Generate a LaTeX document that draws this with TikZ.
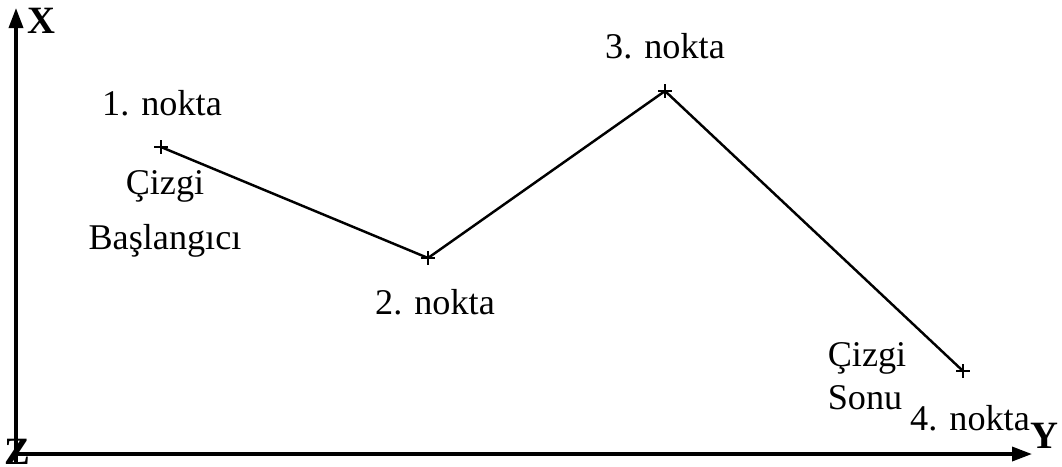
\documentclass[tikz,border=0pt]{standalone}
\usepackage{fontspec}
\setmainfont{Liberation Serif}
\usepackage{tikz}
\usetikzlibrary{arrows.meta}
\newcommand{\arti}[1]{%
	\draw [thin] (#1) ++(-7,0) -- ++(14,0) (#1) ++(0,-7) -- ++(0,14);
}
\tikzset{
	eksen/.style={line width=1pt, -{Triangle[length=2mm,width=1.4mm]}},
	etiket/.style={font=\fontsize{10.3}{15.5}\selectfont, inner sep=0pt},
	eksenadi/.style={font=\fontsize{11}{13}\selectfont\bfseries, inner sep=0pt}
}

\begin{document}
\begin{tikzpicture}[x=0.1mm, y=-0.1mm]
	
	\useasboundingbox (0,0) rectangle (1062,466);
	
	% eksenler
	\coordinate (o) at (16,454);
	\coordinate (xuc) at (16,8);
	\coordinate (yuc) at (1032,454);
	\draw [eksen] (16,462) -- (xuc);
	\draw [eksen] (o) -- (yuc);
	\node [eksenadi] (xadi) at (41,21) {X};
	\node [eksenadi] (yadi) at (1044,436) {Y};
	\node [eksenadi] (zadi) at (17,452) {Z};
	
	% cizgi noktalari
	\coordinate (p1) at (161,147);
	\coordinate (p2) at (428,258);
	\coordinate (p3) at (665,91);
	\coordinate (p4) at (963,371);
	
	\draw [line width=0.7pt] (p1) -- (p2) -- (p3) -- (p4);
	
	\arti{p1}
	\arti{p2}
	\arti{p3}
	\arti{p4}
	
	\node [etiket] (n1) at (162,103) {1. nokta};
	\node [etiket] (n2) at (435,302) {2. nokta};
	\node [etiket] (n3) at (665,46) {3. nokta};
	\node [etiket] (n4) at (970,418) {4. nokta};
	
	\node [etiket, align=center] (bas) at (165,214) {Çizgi\\Başlangıcı};
	\node [etiket, align=left, font=\fontsize{10.3}{12.3}\selectfont] (son) at (867,376) {Çizgi\\Sonu};

\end{tikzpicture}
\end{document}
